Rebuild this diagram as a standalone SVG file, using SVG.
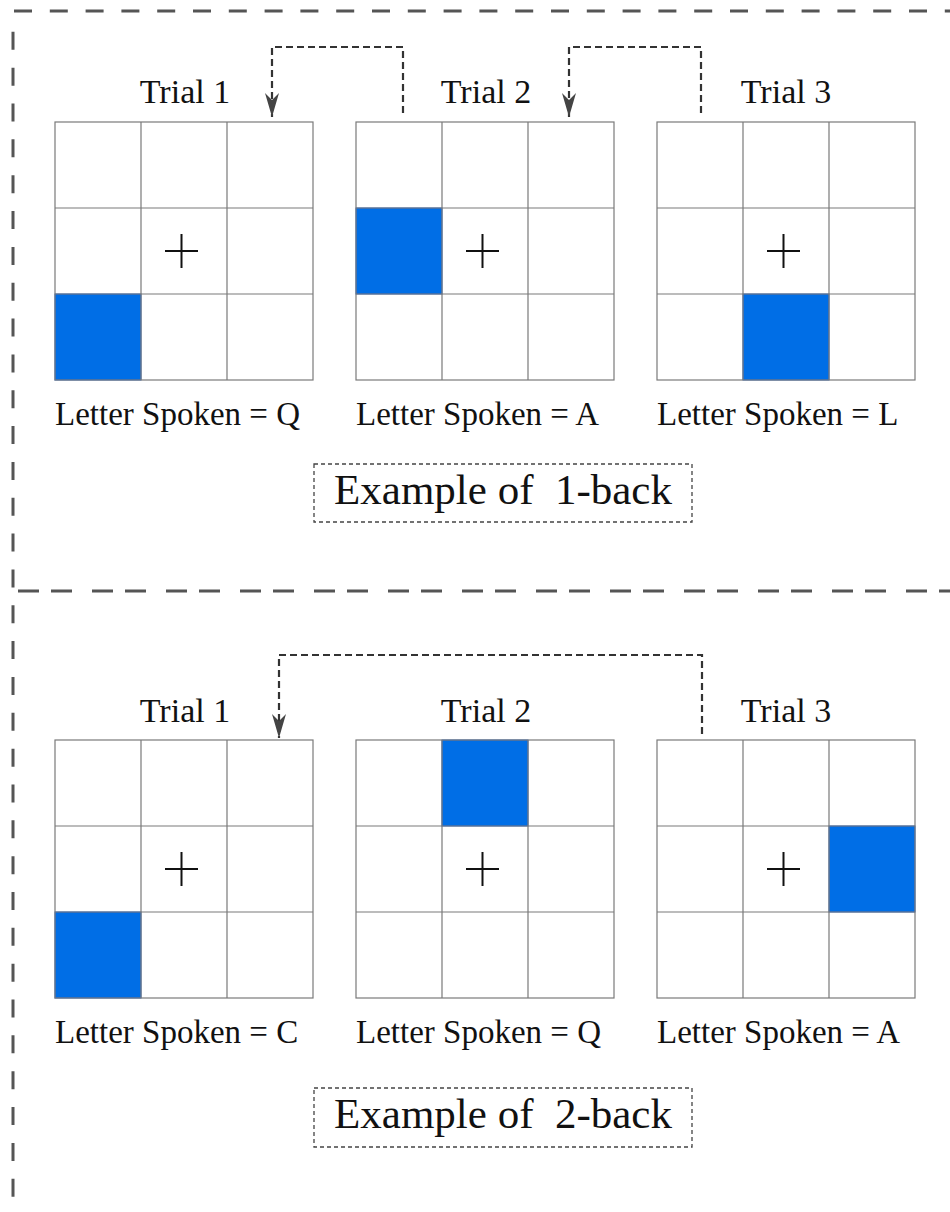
<svg xmlns="http://www.w3.org/2000/svg" width="950" height="1212" viewBox="0 0 950 1212">
<style>
.frame{fill:none;stroke:#555;stroke-width:3}
.grid{fill:none;stroke:#7a7a7a;stroke-width:1.2}
.blue{fill:#006ee6;stroke:#1060d8;stroke-width:1}
.plus{stroke:#111;stroke-width:2}
.title{font-family:"Liberation Serif","Times New Roman",serif;font-size:34px;fill:#111;text-anchor:middle}
.spoken{font-family:"Liberation Serif","Times New Roman",serif;font-size:33px;fill:#111}
.lbl{font-family:"Liberation Serif","Times New Roman",serif;font-size:43px;fill:#111;text-anchor:middle;white-space:pre}
.lblbox{fill:#fff;stroke:#444;stroke-width:1.3;stroke-dasharray:4 3}
.conn{fill:none;stroke:#333;stroke-width:2.2;stroke-dasharray:7 4}
</style>
<defs>
<marker id="ah" markerUnits="userSpaceOnUse" viewBox="0 0 24 14" refX="24" refY="7" markerWidth="24" markerHeight="14" orient="auto">
<path d="M0,0 L24,7 L0,14 L7,7 z" fill="#444"/>
</marker>
<g id="grid">
<rect class="grid" x="0" y="0" width="258" height="258"/>
<path class="grid" d="M86,0V258M172,0V258M0,86H258M0,172H258"/>
</g>
<g id="plus">
<path class="plus" d="M110,129H143M126.5,112V146"/>
</g>
</defs>
<rect width="950" height="1212" fill="#fff"/>
<g id="frame">
<path class="frame" d="M14,11H950" stroke-dasharray="18 17.8"/>
<path class="frame" d="M13,14V1200" stroke-dasharray="18 17.84" stroke-dashoffset="18"/>
<path class="frame" d="M18,591H950" stroke-width="2.6" stroke-dasharray="21 12 21 20"/>
</g>
<g id="t1-trial1">
<text class="title" x="185" y="103">Trial 1</text>
<rect class="blue" x="55" y="294" width="86" height="86"/>
<use href="#grid" x="55" y="122"/>
<use href="#plus" x="55" y="122"/>
<text class="spoken" x="55" y="425">Letter Spoken = Q</text>
</g>
<g id="t1-trial2">
<text class="title" x="486" y="103">Trial 2</text>
<rect class="blue" x="356" y="208" width="86" height="86"/>
<use href="#grid" x="356" y="122"/>
<use href="#plus" x="356" y="122"/>
<text class="spoken" x="356" y="425">Letter Spoken = A</text>
</g>
<g id="t1-trial3">
<text class="title" x="786" y="103">Trial 3</text>
<rect class="blue" x="743" y="294" width="86" height="86"/>
<use href="#grid" x="657" y="122"/>
<use href="#plus" x="657" y="122"/>
<text class="spoken" x="657" y="425">Letter Spoken = L</text>
</g>
<g id="label-1back">
<rect class="lblbox" x="314" y="464" width="378" height="58"/>
<text class="lbl" x="503" y="504">Example of  1-back</text>
</g>
<g id="t2-trial1">
<text class="title" x="185" y="722">Trial 1</text>
<rect class="blue" x="55" y="912" width="86" height="86"/>
<use href="#grid" x="55" y="740"/>
<use href="#plus" x="55" y="740"/>
<text class="spoken" x="55" y="1043">Letter Spoken = C</text>
</g>
<g id="t2-trial2">
<text class="title" x="486" y="722">Trial 2</text>
<rect class="blue" x="442" y="740" width="86" height="86"/>
<use href="#grid" x="356" y="740"/>
<use href="#plus" x="356" y="740"/>
<text class="spoken" x="356" y="1043">Letter Spoken = Q</text>
</g>
<g id="t2-trial3">
<text class="title" x="786" y="722">Trial 3</text>
<rect class="blue" x="829" y="826" width="86" height="86"/>
<use href="#grid" x="657" y="740"/>
<use href="#plus" x="657" y="740"/>
<text class="spoken" x="657" y="1043">Letter Spoken = A</text>
</g>
<g id="label-2back">
<rect class="lblbox" x="314" y="1088" width="378" height="59"/>
<text class="lbl" x="503" y="1128">Example of  2-back</text>
</g>
<g id="connectors">
<path class="conn" d="M403,113V47H272V117" marker-end="url(#ah)"/>
<path class="conn" d="M701,113V47H569V117" marker-end="url(#ah)"/>
<path class="conn" d="M702,734V655H279V738" marker-end="url(#ah)"/>
</g>
</svg>
